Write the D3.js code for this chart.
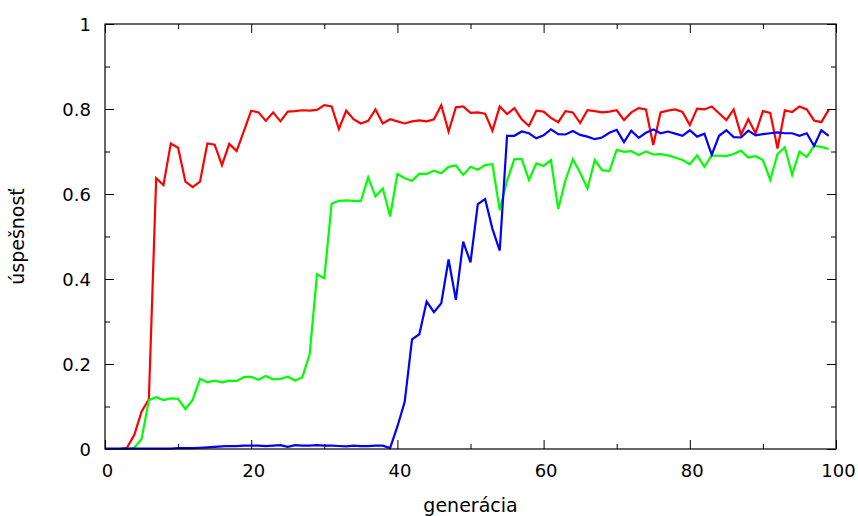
<!DOCTYPE html>
<html>
<head>
<meta charset="utf-8">
<script src="https://cdn.jsdelivr.net/npm/d3@7"></script>
<style>
  html, body { margin: 0; padding: 0; background: #fff; }
  svg { display: block; font-family: "DejaVu Sans", sans-serif; }
</style>
</head>
<body>
<svg id="chart" width="858" height="516"></svg>
<script>
// ---- data ----
const generations = d3.range(0, 100);
const redValues = [0, 0, 0, 0.003, 0.033, 0.088, 0.117, 0.637, 0.621, 0.719,
  0.709, 0.629, 0.616, 0.629, 0.719, 0.716, 0.668, 0.718, 0.701, 0.748,
  0.796, 0.792, 0.772, 0.792, 0.771, 0.794, 0.795, 0.797, 0.796, 0.798,
  0.809, 0.806, 0.753, 0.796, 0.776, 0.766, 0.772, 0.799, 0.766, 0.776,
  0.771, 0.766, 0.771, 0.773, 0.771, 0.776, 0.809, 0.747, 0.804, 0.806,
  0.791, 0.792, 0.789, 0.749, 0.806, 0.788, 0.802, 0.776, 0.760, 0.796,
  0.794, 0.779, 0.769, 0.795, 0.792, 0.767, 0.797, 0.795, 0.792, 0.794,
  0.797, 0.774, 0.792, 0.802, 0.799, 0.715, 0.792, 0.796, 0.799, 0.793,
  0.762, 0.801, 0.799, 0.806, 0.790, 0.774, 0.799, 0.739, 0.776, 0.743,
  0.795, 0.791, 0.707, 0.797, 0.793, 0.806, 0.799, 0.773, 0.769, 0.798];
const greenValues = [0, 0, 0, 0, 0.003, 0.023, 0.115, 0.122, 0.115, 0.119,
  0.118, 0.094, 0.116, 0.165, 0.157, 0.161, 0.157, 0.161, 0.160, 0.169,
  0.170, 0.163, 0.172, 0.164, 0.165, 0.170, 0.161, 0.169, 0.223, 0.411,
  0.402, 0.577, 0.584, 0.585, 0.584, 0.583, 0.639, 0.594, 0.613, 0.547,
  0.647, 0.637, 0.631, 0.648, 0.647, 0.655, 0.649, 0.664, 0.667, 0.645,
  0.664, 0.657, 0.668, 0.670, 0.562, 0.631, 0.682, 0.682, 0.633, 0.672,
  0.666, 0.680, 0.565, 0.633, 0.682, 0.650, 0.613, 0.680, 0.656, 0.654,
  0.704, 0.699, 0.701, 0.692, 0.700, 0.693, 0.694, 0.691, 0.686, 0.680,
  0.670, 0.691, 0.664, 0.691, 0.690, 0.689, 0.694, 0.702, 0.686, 0.689,
  0.680, 0.633, 0.694, 0.710, 0.645, 0.700, 0.687, 0.713, 0.711, 0.706];
const blueValues = [0.001, 0.001, 0.001, 0.001, 0.001, 0.001, 0.001, 0.001, 0.001, 0.001,
  0.002, 0.002, 0.002, 0.003, 0.004, 0.005, 0.006, 0.007, 0.007, 0.008,
  0.008, 0.008, 0.007, 0.008, 0.009, 0.005, 0.009, 0.008, 0.008, 0.009,
  0.008, 0.008, 0.007, 0.006, 0.008, 0.007, 0.007, 0.008, 0.008, 0.002,
  0.053, 0.111, 0.258, 0.270, 0.347, 0.322, 0.343, 0.446, 0.351, 0.488,
  0.439, 0.576, 0.588, 0.518, 0.467, 0.737, 0.737, 0.747, 0.743, 0.731,
  0.738, 0.752, 0.741, 0.740, 0.748, 0.739, 0.735, 0.729, 0.733, 0.744,
  0.751, 0.722, 0.749, 0.732, 0.744, 0.752, 0.743, 0.747, 0.742, 0.737,
  0.750, 0.735, 0.742, 0.692, 0.737, 0.750, 0.734, 0.733, 0.749, 0.738,
  0.741, 0.743, 0.745, 0.743, 0.743, 0.737, 0.743, 0.713, 0.750, 0.737];
const seriesNames = ["red", "green", "blue"];
const seriesColors = ["#ff0000", "#00ff00", "#0000ff"];
const xTickLabels = [0, 20, 40, 60, 80, 100];
const xMinorTicks = [10, 30, 50, 70, 90];
const yTickLabels = [0, 0.2, 0.4, 0.6, 0.8, 1];
const yMinorTicks = [0.1, 0.3, 0.5, 0.7, 0.9];
const xTitle = "generácia";
const yTitle = "úspešnosť";

// ---- layout ----
const W = 858, H = 516;
const margin = { left: 105, right: 22, top: 24, bottom: 67 };
const iw = W - margin.left - margin.right;
const ih = H - margin.top - margin.bottom;

const svg = d3.select("#chart");
const g = svg.append("g").attr("transform", `translate(${margin.left},${margin.top})`);

const x = d3.scaleLinear().domain([0, 100]).range([0, iw]);
const y = d3.scaleLinear().domain([0, 1]).range([ih, 0]);

const MAJ = 9, MIN = 5;

function styleAxis(sel) {
  sel.select(".domain").remove();
  sel.selectAll(".tick line").attr("stroke", "#000").attr("stroke-width", 1);
}

// bottom major (labels)
const xb = g.append("g").attr("transform", `translate(0,${ih})`)
  .call(d3.axisBottom(x).tickValues(xTickLabels).tickSize(-MAJ).tickFormat(d => String(d)));
styleAxis(xb);
xb.selectAll("text").attr("y", 28).attr("dy", 0).attr("dx", 2)
  .attr("font-size", 18).attr("fill", "#000").attr("font-family", "DejaVu Sans");
// bottom minor
styleAxis(g.append("g").attr("transform", `translate(0,${ih})`)
  .call(d3.axisBottom(x).tickValues(xMinorTicks).tickSize(-MIN).tickFormat("")));
// top mirror
styleAxis(g.append("g").call(d3.axisTop(x).tickValues(xTickLabels).tickSize(-MAJ).tickFormat("")));
styleAxis(g.append("g").call(d3.axisTop(x).tickValues(xMinorTicks).tickSize(-MIN).tickFormat("")));

// left major (labels)
const yl = g.append("g").call(d3.axisLeft(y).tickValues(yTickLabels).tickSize(-MAJ).tickFormat(d => String(d)));
styleAxis(yl);
yl.selectAll("text").attr("x", -14).attr("dy", "0.36em")
  .attr("font-size", 18).attr("fill", "#000").attr("font-family", "DejaVu Sans");
styleAxis(g.append("g").call(d3.axisLeft(y).tickValues(yMinorTicks).tickSize(-MIN).tickFormat("")));
// right mirror
styleAxis(g.append("g").attr("transform", `translate(${iw},0)`)
  .call(d3.axisRight(y).tickValues(yTickLabels).tickSize(-MAJ).tickFormat("")));
styleAxis(g.append("g").attr("transform", `translate(${iw},0)`)
  .call(d3.axisRight(y).tickValues(yMinorTicks).tickSize(-MIN).tickFormat("")));

// series lines
const allSeries = [redValues, greenValues, blueValues];
const line = d3.line().x((d, i) => x(generations[i])).y(d => y(d));
allSeries.forEach((vals, k) => {
  g.append("path")
    .datum(vals)
    .attr("class", "series-" + seriesNames[k])
    .attr("fill", "none")
    .attr("stroke", seriesColors[k])
    .attr("stroke-width", 2.2)
    .attr("stroke-linejoin", "miter")
    .attr("d", line);
});

// frame
g.append("rect").attr("x", 0).attr("y", 0).attr("width", iw).attr("height", ih)
  .attr("fill", "none").attr("stroke", "#000").attr("stroke-width", 1.2);

// titles
svg.append("text")
  .attr("x", margin.left + iw / 2).attr("y", 511.5)
  .attr("text-anchor", "middle").attr("font-size", 19).attr("fill", "#000")
  .text(xTitle);
svg.append("text")
  .attr("transform", `translate(24,${margin.top + ih / 2}) rotate(-90)`)
  .attr("text-anchor", "middle").attr("font-size", 19).attr("fill", "#000")
  .text(yTitle);
</script>
</body>
</html>
